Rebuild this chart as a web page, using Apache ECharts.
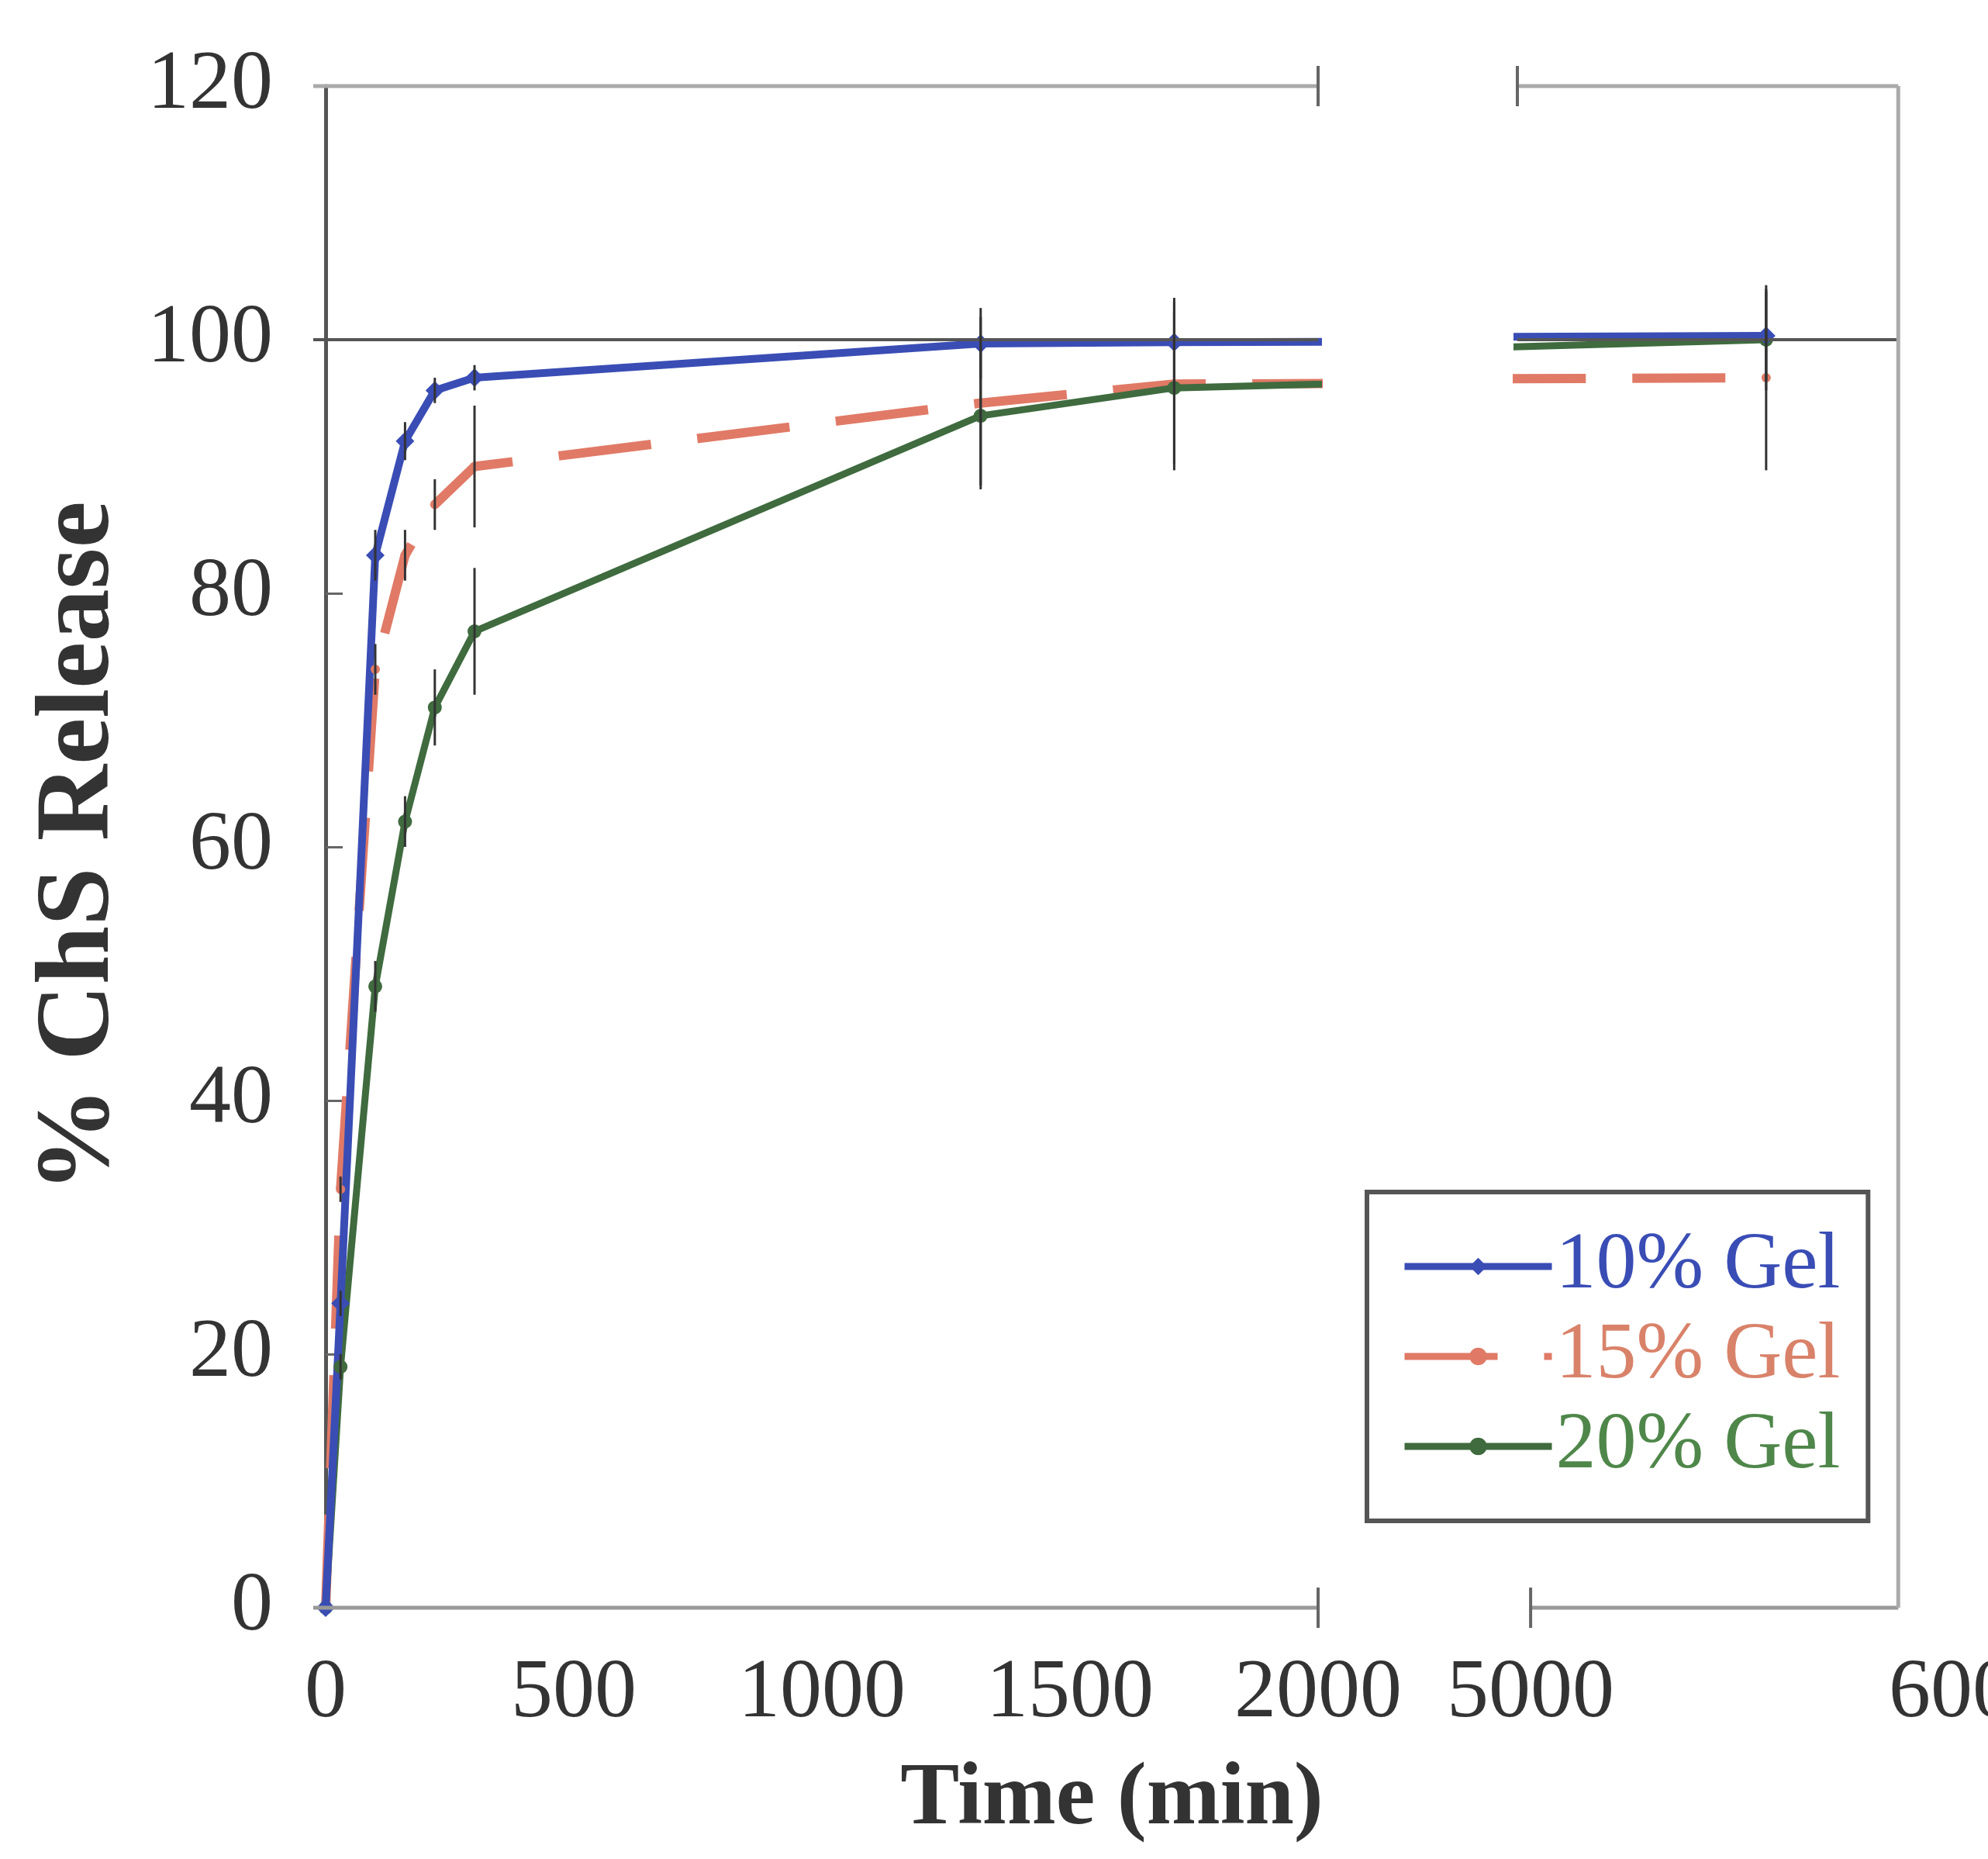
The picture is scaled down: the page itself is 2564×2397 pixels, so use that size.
<!DOCTYPE html>
<html><head><meta charset="utf-8">
<script src="https://cdn.jsdelivr.net/npm/echarts@6/dist/echarts.min.js"></script>
<style>html,body{margin:0;padding:0;background:#fff}#c{width:2564px;height:2397px}</style>
</head><body><div id="c"></div>
<script>
// ---- data ----
const times   = [0, 30, 100, 160, 220, 300, 1320, 1710, 5533];
const gel10   = [0, 24, 83, 92, 96, 97, 99.7, 99.8, 100.3];
const gel10Er = [0, 1, 2, 1.5, 1, 1, 2.8, 3.2, 3.5];
const gel15   = [0, 33, 74, 83, 87, 90, 95, 96.5, 97];
const gel15Er = [0, 1, 2, 2, 2, 4.8, 6.8, 6.8, 7.3];
const gel20   = [0, 19, 49, 62, 71, 77, 94, 96.2, 100];
const gel20Er = [0, 1, 2, 2, 3, 5, 5.5, 6, 4];
const yTicks  = [0, 20, 40, 60, 80, 100, 120];
const xTicksLeft  = [0, 500, 1000, 1500, 2000];
const xTicksRight = [5000, 6000];
const refLevel = 100;

const FONT = 'Liberation Serif';
const C10 = '#3a4db5', C15 = '#e07a66', C20 = '#3f6b3f';
const leftMin = -25, leftMax = 2000, rightMin = 4970, rightMax = 6000, rightEdge = 5832;

const chart = echarts.init(document.getElementById('c'));

function pairs(vals){ return times.map((t,i)=>[t, vals[i]]); }

function lineSeries(name, vals, color, gi, extra){
  return Object.assign({
    type:'line', name, xAxisIndex:gi, yAxisIndex:gi, data:pairs(vals),
    clip:true, color, z:3,
    lineStyle:{color, width:10},
    itemStyle:{color},
    symbol:'circle', symbolSize:16, showSymbol:true, animation:false
  }, extra||{});
}
function errSeries(vals, errs, gi){
  return {
    type:'custom', xAxisIndex:gi, yAxisIndex:gi, clip:true, silent:true, z:6, animation:false,
    data: times.map((t,i)=>[t, vals[i], errs[i]]),
    renderItem(params, api){
      const x = api.value(0), y = api.value(1), e = api.value(2);
      if(!e) return null;
      const a = api.coord([x, y+e]), b = api.coord([x, y-e]);
      return {type:'line', shape:{x1:a[0], y1:a[1], x2:b[0], y2:b[1]}, style:{stroke:'#333', lineWidth:3}};
    }
  };
}

const series = [];
[0,1].forEach(gi=>{
  series.push(lineSeries('15% Gel', gel15, C15, gi, {lineStyle:{color:C15, width:12, type:[120,60]}, symbolSize:12}));
  series.push(lineSeries('20% Gel', gel20, C20, gi, {lineStyle:{color:C20, width:9}, symbolSize:18}));
  series.push(lineSeries('10% Gel', gel10, C10, gi, {symbol:'diamond', symbolSize:24,
    markLine:{silent:true, symbol:'none', label:{show:false}, animation:false,
      lineStyle:{color:'#555', width:4, type:'solid'},
      data: gi===0 ? [{yAxis:refLevel}] : [[{coord:[rightMin, refLevel]},{coord:[rightEdge, refLevel]}]]}}));
  series.push(errSeries(gel15, gel15Er, gi));
  series.push(errSeries(gel20, gel20Er, gi));
  series.push(errSeries(gel10, gel10Er, gi));
});

const axLabel = {fontFamily:FONT, fontSize:108, color:'#333', formatter: v => String(v)};

const option = {
  backgroundColor:'#fff',
  animation:false,
  grid:[
    {left:404, width:1296, top:111, height:1962, outerBoundsMode:'none'},
    {left:1957, right:20, top:111, height:1962, outerBoundsMode:'none'}
  ],
  xAxis:[
    {gridIndex:0, type:'value', min:leftMin, max:leftMax,
     axisLine:{show:false}, axisTick:{show:false}, splitLine:{show:false},
     axisLabel:Object.assign({customValues:xTicksLeft, margin:58}, axLabel)},
    {gridIndex:1, type:'value', min:rightMin, max:rightMax,
     axisLine:{show:false}, axisTick:{show:false}, splitLine:{show:false},
     axisLabel:Object.assign({customValues:xTicksRight, margin:58, showMaxLabel:true}, axLabel)}
  ],
  yAxis:[
    {gridIndex:0, type:'value', min:0, max:120, interval:20,
     axisLine:{show:true, lineStyle:{color:'#555', width:5}},
     axisTick:{show:true, inside:true, length:22, lineStyle:{color:'#666', width:3}},
     splitLine:{show:false},
     axisLabel:Object.assign({margin:52}, axLabel),
     name:'% ChS Release', nameLocation:'middle', nameGap:232, nameRotate:90,
     nameTextStyle:{fontFamily:FONT, fontSize:136, fontWeight:'bold', color:'#333'}},
    {gridIndex:1, type:'value', min:0, max:120, interval:20, show:false}
  ],
  legend:{
    orient:'vertical', left:1763, top:1537,
    backgroundColor:'#fff', borderColor:'#555', borderWidth:6,
    padding:[44, 36, 44, 44], itemGap:12, itemWidth:190, itemHeight:28,
    textStyle:{fontFamily:FONT, fontSize:104, lineHeight:104},
    lineStyle:{width:9},
    data:[
      {name:'10% Gel', textStyle:{color:C10}},
      {name:'15% Gel', textStyle:{color:'#d9826a'}},
      {name:'20% Gel', textStyle:{color:'#4f874a'}}
    ]
  },
  series
};
chart.setOption(option);

// frame lines and axis-break marks (decoration), placed via the axes' scales
function P(gi, x, y){ return chart.convertToPixel({xAxisIndex:gi, yAxisIndex:gi}, [x, y]); }
function seg(a, b, color, w){ return {type:'line', silent:true, z:10, shape:{x1:a[0], y1:a[1], x2:b[0], y2:b[1]}, style:{stroke:color, lineWidth:w}}; }
function brk(p){ return seg([p[0], p[1]-26], [p[0], p[1]+26], '#666', 4); }
const g = [];
g.push(seg(P(0,leftMin,120), P(0,leftMax,120), '#aaa', 5));
g.push(seg(P(0,leftMin,0), P(0,leftMax,0), '#999', 5));
g.push(brk(P(0,leftMax,120)), brk(P(0,leftMax,0)));
g.push(seg(P(1,rightMin,120), P(1,rightEdge,120), '#aaa', 5));
g.push(seg(P(1,5000,0), P(1,rightEdge,0), '#999', 5));
g.push(seg(P(1,rightEdge,0), P(1,rightEdge,120), '#aaa', 5));
g.push(brk(P(1,rightMin,120)), brk(P(1,5000,0)));
g.push({type:'text', silent:true, x:1434, y:2322, style:{text:'Time (min)', fontFamily:FONT, fontSize:114, fontWeight:'bold', fill:'#333', align:'center', verticalAlign:'middle'}});
chart.setOption({graphic:g});
</script></body></html>
